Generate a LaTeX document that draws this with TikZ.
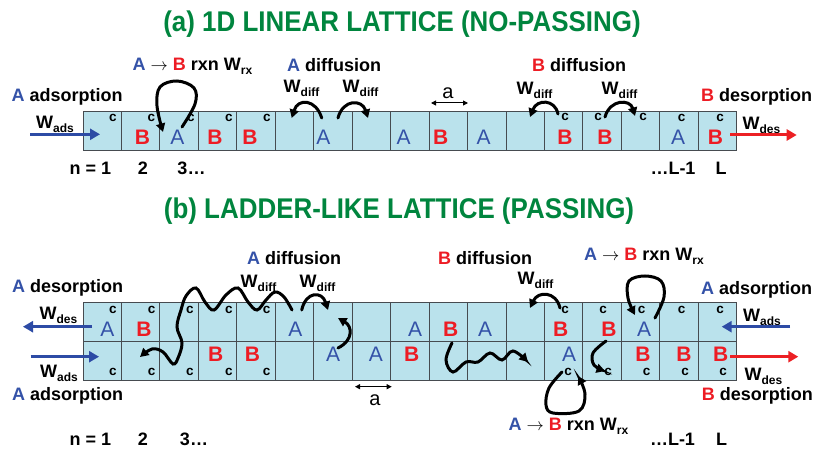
\documentclass[tikz,border=0pt]{standalone}
\usepackage{fontspec}
\setmainfont{Liberation Sans}
\usepackage{graphicx}
\usetikzlibrary{arrows.meta}
\definecolor{myblue}{RGB}{52,82,168}
\definecolor{myred}{RGB}{237,28,36}
\definecolor{mygreen}{RGB}{0,133,62}
\definecolor{cellfill}{RGB}{186,226,236}
\definecolor{gridc}{RGB}{70,75,80}
\definecolor{arrblue}{RGB}{45,75,165}
\definecolor{arrred}{RGB}{236,32,36}
\newcommand{\Wsb}[1]{W\raisebox{-4pt}{\fontsize{12}{12}\selectfont #1}}
\newcommand{\Ab}{\textcolor{myblue}{A}}
\newcommand{\Bb}{\textcolor{myred}{B}}
\tikzset{
 lbl/.style={inner sep=0pt, font=\bfseries\fontsize{18}{18}\selectfont},
 cc/.style={inner sep=0pt, font=\bfseries\fontsize{13.5}{13.5}\selectfont},
 la/.style={inner sep=0pt, text=myblue, font=\fontsize{21}{21}\selectfont},
 lb/.style={inner sep=0pt, text=myred, font=\bfseries\fontsize{21}{21}\selectfont},
 ttl/.style={inner sep=0pt, text=mygreen, font=\bfseries\fontsize{28.5}{28.5}\selectfont},
 gridl/.style={draw=gridc, line width=0.9pt},
 curv/.style={line width=3pt, -{Triangle[length=8.5pt,width=9pt]}, line cap=round},
 barrow/.style={draw=arrblue, line width=3pt, -{Triangle[length=10pt,width=11pt]}},
 rarrow/.style={draw=arrred, line width=3pt, -{Triangle[length=10pt,width=11pt]}},
 dimarr/.style={line width=1pt, {Triangle[length=5pt,width=5pt]}-{Triangle[length=5pt,width=5pt]}},
 sa/.style={inner sep=0pt, font=\fontsize{20}{20}\selectfont}
}
\begin{document}
\begin{tikzpicture}[x=1pt,y=-1pt]
\fill[white] (0,0) rectangle (814,449);
\useasboundingbox (0,0) rectangle (814,449);

% ---------- titles
\node[ttl] (ta) at (402,24) {\scalebox{0.91}[1]{(a) 1D LINEAR LATTICE (NO-PASSING)}};
\node[ttl] (tb) at (399,211) {\scalebox{0.91}[1]{(b) LADDER-LIKE LATTICE (PASSING)}};

% ---------- top lattice
\fill[cellfill] (83,111) rectangle (736.65,150);
\foreach \i in {0,...,16} \draw[gridl] ({83+\i*38.45},111) rectangle ++(38.45,39);

\foreach \x/\n in {113/1,151.5/2,191/3,229/4,267/5,681.7/16,720/17}
  \node[cc] (tc\n) at (\x,118) {c};
\foreach \x/\n in {565/13,598/14,643/15}
  \node[cc] (tc\n) at (\x,117) {c};

\foreach \x/\n in {177.5/3,323.3/7,403.6/9,483.7/11,678/16}
  \node[la] (tl\n) at (\x,137.5) {A};
\foreach \x/\n in {142.5/2,215/4,250/5,440.8/10,565/13,605/14,715.5/17}
  \node[lb] (tl\n) at (\x,137.5) {B};

% labels top
\node[lbl] (tadsl) at (67,96.7) {\Ab\ adsorption};
\node[lbl] (twads) at (55,124) {\Wsb{ads}};
\coordinate (tin0) at (30,134.3);
\coordinate (tin1) at (100,134.3);
\draw[barrow] (tin0) -- (tin1);
\node[lbl] (tn1) at (90.5,168.3) {n = 1};
\node[lbl] (tn2) at (143,168.3) {2};
\node[lbl] (tn3) at (191.5,168.3) {3…};
\node[lbl] (tnL1) at (673,168.3) {…L-1};
\node[lbl] (tnL) at (721,168.3) {L};

\node[lbl] (trxn) at (192.5,66.7) {\Ab\ $\rightarrow$ \Bb\ rxn \Wsb{rx}};
\draw[curv] plot[smooth, tension=0.6] coordinates {(182,127) (195,104) (194,88) (177,81) (160,87) (157,106) (163,132)};

\node[lbl] (tadif) at (334,65) {\Ab\ diffusion};
\node[lbl] (twd1) at (301.5,88) {\Wsb{diff}};
\node[lbl] (twd2) at (360.5,88) {\Wsb{diff}};
\draw[curv] (321.7,118) .. controls (316,99) and (298,98) .. (291.7,118);
\draw[curv] (338,118) .. controls (343,99) and (362,99) .. (368,118);

\node[sa] (tanode) at (448,93) {a};
\coordinate (tda0) at (431,103);
\coordinate (tda1) at (468,103);
\draw[dimarr] (tda0) -- (tda1);

\node[lbl] (tbdif) at (579,65) {\Bb\ diffusion};
\node[lbl] (twd3) at (534.5,90) {\Wsb{diff}};
\node[lbl] (twd4) at (619.5,90) {\Wsb{diff}};
\draw[curv] (558,114) .. controls (555,99) and (537,99) .. (530,117);
\draw[curv] (605,117) .. controls (610,99) and (630,99) .. (635,116);

\node[lbl] (tbdes) at (756.7,96.7) {\Bb\ desorption};
\node[lbl] (twdes) at (761.5,125) {\Wsb{des}};
\coordinate (tout0) at (730,135);
\coordinate (tout1) at (796.7,135);
\draw[rarrow] (tout0) -- (tout1);

% ---------- bottom lattice
\fill[cellfill] (83,302.5) rectangle (736.65,380);
\foreach \i in {0,...,16} {
  \draw[gridl] ({83+\i*38.45},302.5) rectangle ++(38.45,38.75);
  \draw[gridl] ({83+\i*38.45},341.25) rectangle ++(38.45,38.75);
}

\foreach \x/\n in {113/1,151.7/2,190/3,229/4,266.7/5,565/13,603/14,641.7/15,681.7/16,720/17}
  \node[cc] (bct\n) at (\x,310) {c};
\foreach \x/\n in {113/1,151.7/2,190/3,229/4,266.7/5,568/13,608/14,646.7/15,685/16,723/17}
  \node[cc] (bcb\n) at (\x,371.7) {c};

\foreach \x/\n in {107.5/1,295.5/6,415/9,485/11,644/15}
  \node[la] (bt\n) at (\x,329) {A};
\foreach \x/\n in {144/2,450.8/10,560.8/13,609/14}
  \node[lb] (bt\n) at (\x,329) {B};
\foreach \x/\n in {333/7,375.8/8,569/13}
  \node[la] (bb\n) at (\x,354) {A};
\foreach \x/\n in {215.8/4,252.5/5,411.7/9,643/15,684/16,720.8/17}
  \node[lb] (bb\n) at (\x,354) {B};

% left labels
\node[lbl] (bades) at (67.5,288) {\Ab\ desorption};
\node[lbl] (bwdes) at (58.5,315) {\Wsb{des}};
\coordinate (bo0) at (92,326.7);
\coordinate (bo1) at (23,326.7);
\draw[barrow] (bo0) -- (bo1);
\coordinate (bi0) at (30.7,356.7);
\coordinate (bi1) at (99,356.7);
\draw[barrow] (bi0) -- (bi1);
\node[lbl] (bwads) at (59,373) {\Wsb{ads}};
\node[lbl] (badsl) at (67.5,395.7) {\Ab\ adsorption};
\node[lbl] (bn1) at (90.5,439.5) {n = 1};
\node[lbl] (bn2) at (143,439.5) {2};
\node[lbl] (bn3) at (194,439.5) {3…};
\node[lbl] (bnL1) at (672.5,439.5) {…L-1};
\node[lbl] (bnL) at (721.7,439.5) {L};

% A diffusion bottom
\node[lbl] (badif) at (294,258) {\Ab\ diffusion};
\node[lbl] (bwd1) at (258.5,283) {\Wsb{diff}};
\node[lbl] (bwd2) at (317.5,283) {\Wsb{diff}};
\draw[curv] plot[smooth, tension=0.6] coordinates {(292,310) (284,297) (275,292) (266,300) (257,310) (248,302) (238,288) (226,295) (214,310) (205,302) (196,288) (186,296) (181,310) (177,327) (182,343) (178,358) (173,364) (163,352) (152,349) (140,357)};
\draw[curv] (301.7,310) .. controls (306,291) and (322,291) .. (328,310);
\draw[curv] (338,348) .. controls (354,340) and (352,326) .. (338,318);

\node[sa] (banode) at (375,400) {a};
\coordinate (bda0) at (355,386.7);
\coordinate (bda1) at (391.7,386.7);
\draw[dimarr] (bda0) -- (bda1);

% B diffusion bottom
\node[lbl] (bbdif) at (485,258) {\Bb\ diffusion};
\node[lbl] (bwd3) at (535.5,280) {\Wsb{diff}};
\draw[curv] (560,308) .. controls (556,291) and (538,291) .. (530,308);
\draw[curv] plot[smooth, tension=0.6] coordinates {(452,343) (446,360) (453,372) (466,362) (478,362) (490,353) (502,360) (513,351) (528,362)};
\draw[curv] plot[smooth, tension=0.6] coordinates {(606,341) (593,353) (594,365) (605,371)};

% reactions bottom
\node[lbl] (brxn1) at (644,256.7) {\Ab\ $\rightarrow$ \Bb\ rxn \Wsb{rx}};
\draw[curv] plot[smooth, tension=0.6] coordinates {(655,318) (664,297) (661,281) (645,276) (629,281) (628,298) (635,315)};
\node[lbl] (brxn2) at (568.4,426.7) {\Ab\ $\rightarrow$ \Bb\ rxn \Wsb{rx}};
\draw[curv] plot[smooth, tension=0.6] coordinates {(562,372) (549,388) (546,405) (553,413) (579,411) (585,394) (578,376)};

% right labels
\node[lbl] (bradsl) at (756.7,290) {\Ab\ adsorption};
\node[lbl] (brwads) at (762,317) {\Wsb{ads}};
\coordinate (bri0) at (790,326.7);
\coordinate (bri1) at (721.7,326.7);
\draw[barrow] (bri0) -- (bri1);
\coordinate (bro0) at (730,356.7);
\coordinate (bro1) at (798.3,356.7);
\draw[rarrow] (bro0) -- (bro1);
\node[lbl] (brwdes) at (763.4,376.7) {\Wsb{des}};
\node[lbl] (brdes) at (757.4,395.7) {\Bb\ desorption};
\end{tikzpicture}
\end{document}
